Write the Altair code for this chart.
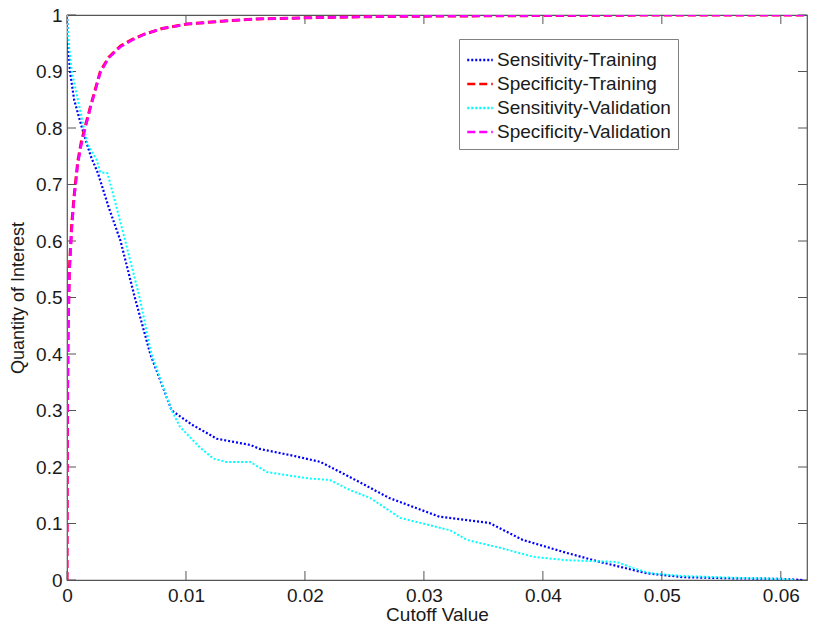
import altair as alt
import pandas as pd

# ---- data ----
spec_x = [0, 0.00002, 0.00005, 0.0001, 0.0002, 0.0004, 0.0006, 0.0009, 0.0012, 0.0015, 0.002,
          0.0028, 0.0035, 0.0045, 0.0055, 0.0065, 0.008, 0.0101, 0.013, 0.016, 0.02, 0.025,
          0.03, 0.04, 0.05, 0.0622]
spec_tr = [0, 0.2, 0.33, 0.45, 0.55, 0.63, 0.68, 0.74, 0.775, 0.8, 0.84,
           0.9, 0.925, 0.945, 0.957, 0.966, 0.976, 0.984, 0.989, 0.993, 0.995, 0.997,
           0.998, 0.999, 1.0, 1.0]
spec_va = [0, 0.19, 0.32, 0.44, 0.54, 0.62, 0.675, 0.735, 0.77, 0.797, 0.838,
           0.898, 0.924, 0.944, 0.956, 0.966, 0.976, 0.984, 0.989, 0.993, 0.995, 0.997,
           0.998, 0.999, 1.0, 1.0]

sens_tr_x = [0, 0.0001, 0.00025, 0.0006, 0.00126, 0.002, 0.0026, 0.0035, 0.0045, 0.0057,
             0.007, 0.0088, 0.0105, 0.0126, 0.0154, 0.0162, 0.019, 0.0213, 0.0238, 0.0271,
             0.028, 0.0313, 0.0355, 0.0383, 0.042, 0.0448, 0.0487, 0.0518, 0.056, 0.06, 0.0618]
sens_tr = [1.0, 0.95, 0.9, 0.85, 0.8, 0.75, 0.72, 0.66, 0.6, 0.5,
           0.4, 0.3, 0.275, 0.25, 0.239, 0.232, 0.22, 0.209, 0.182, 0.145,
           0.138, 0.112, 0.101, 0.071, 0.048, 0.032, 0.012, 0.005, 0.003, 0.002, 0.0]

sens_va_x = [0, 0.0001, 0.0004, 0.0011, 0.0017, 0.0025, 0.0028, 0.0034, 0.004, 0.0049,
             0.0061, 0.0071, 0.0088, 0.0095, 0.0112, 0.0123, 0.0134, 0.0154, 0.0168, 0.0202,
             0.0221, 0.0238, 0.0255, 0.028, 0.0322, 0.0336, 0.0364, 0.0392, 0.042, 0.0462,
             0.0476, 0.049, 0.0518, 0.056, 0.06, 0.0612]
sens_va = [1.0, 0.96, 0.9, 0.832, 0.773, 0.743, 0.722, 0.72, 0.673, 0.6,
           0.5, 0.4, 0.3, 0.271, 0.234, 0.215, 0.209, 0.209, 0.191, 0.18,
           0.177, 0.159, 0.145, 0.11, 0.088, 0.071, 0.057, 0.041, 0.035, 0.032,
           0.021, 0.012, 0.007, 0.004, 0.002, 0.0]

series_names = ["Sensitivity-Training", "Specificity-Training",
                "Sensitivity-Validation", "Specificity-Validation"]
series_colors = ["#0000ff", "#ff0000", "#00ffff", "#ff00ff"]
series_dash = [[2, 2], [8, 4], [2, 2], [8, 4]]
series_width = [2.2, 3, 2, 2.5]

x_ticks = [0, 0.01, 0.02, 0.03, 0.04, 0.05, 0.06]
y_ticks = [0, 0.1, 0.2, 0.3, 0.4, 0.5, 0.6, 0.7, 0.8, 0.9, 1.0]

W, H = 740, 565
XMAX = 0.0622
FONT = "Liberation Sans"
TXT = "#1a1a1a"

frames = [
    pd.DataFrame({"x": sens_tr_x, "y": sens_tr, "series": series_names[0]}),
    pd.DataFrame({"x": spec_x, "y": spec_tr, "series": series_names[1]}),
    pd.DataFrame({"x": sens_va_x, "y": sens_va, "series": series_names[2]}),
    pd.DataFrame({"x": spec_x, "y": spec_va, "series": series_names[3]}),
]

xscale = alt.Scale(domain=[0, XMAX], nice=False, zero=False)
yscale = alt.Scale(domain=[0, 1], nice=False)
cscale = alt.Scale(domain=series_names, range=series_colors)
dscale = alt.Scale(domain=series_names, range=series_dash)

xaxis = alt.Axis(values=x_ticks, format="~g", title="Cutoff Value", grid=False, domain=False,
                 ticks=False, labelFontSize=19, titleFontSize=19, labelFont=FONT, titleFont=FONT,
                 labelColor=TXT, titleColor=TXT, labelPadding=6, titlePadding=0,
                 titleFontWeight="normal", labelFlush=False)
yaxis = alt.Axis(values=y_ticks, format="~g", title="Quantity of Interest", grid=False, domain=False,
                 ticks=False, labelFontSize=19, titleFontSize=18, labelFont=FONT, titleFont=FONT,
                 labelColor=TXT, titleColor=TXT, labelPadding=5, titlePadding=8,
                 titleFontWeight="normal", labelFlush=False)

legend = alt.Legend(title=None, orient="none", legendX=392, legendY=24,
                    symbolType="stroke", symbolSize=650, symbolStrokeWidth=2.5,
                    labelFontSize=19, labelFont=FONT, labelColor=TXT,
                    strokeColor="#808080", fillColor="white", padding=7,
                    rowPadding=0, labelOffset=3, labelLimit=300)

layers = []
for i, df in enumerate(frames):
    layers.append(
        alt.Chart(df).mark_line(strokeWidth=series_width[i], clip=True).encode(
            x=alt.X("x:Q", scale=xscale, axis=xaxis),
            y=alt.Y("y:Q", scale=yscale, axis=yaxis),
            color=alt.Color("series:N", scale=cscale, legend=legend),
            strokeDash=alt.StrokeDash("series:N", scale=dscale, legend=legend),
            order=alt.Order("x:Q"),
        )
    )

xt = pd.DataFrame({"x": x_ticks})
yt = pd.DataFrame({"y": y_ticks})
tick_color = "#555555"
TL = 9
ticks = [
    alt.Chart(xt).mark_rule(color=tick_color, strokeWidth=1).encode(
        x=alt.X("x:Q", scale=xscale), y=alt.value(H), y2=alt.value(H - TL)),
    alt.Chart(xt).mark_rule(color=tick_color, strokeWidth=1).encode(
        x=alt.X("x:Q", scale=xscale), y=alt.value(0), y2=alt.value(TL)),
    alt.Chart(yt).mark_rule(color=tick_color, strokeWidth=1).encode(
        y=alt.Y("y:Q", scale=yscale), x=alt.value(0), x2=alt.value(TL)),
    alt.Chart(yt).mark_rule(color=tick_color, strokeWidth=1).encode(
        y=alt.Y("y:Q", scale=yscale), x=alt.value(W), x2=alt.value(W - TL)),
]

chart = alt.layer(*ticks, *layers).properties(
    width=W, height=H,
    autosize=alt.AutoSizeParams(type="none"),
    padding={"left": 67, "top": 15, "right": 6, "bottom": 45},
    background="white",
).configure_view(stroke="#555555", strokeWidth=1.2)

chart.save("out.html", embed_options={"renderer": "svg", "actions": False})
